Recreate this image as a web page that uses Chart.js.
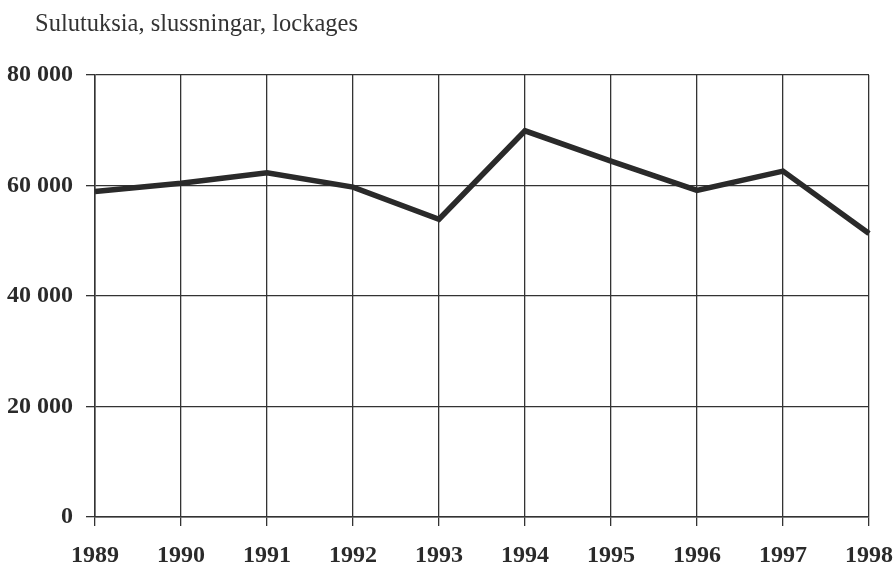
<!DOCTYPE html>
<html>
<head>
<meta charset="utf-8">
<script src="https://cdn.jsdelivr.net/npm/chart.js@4.4.0/dist/chart.umd.min.js"></script>
<style>
  html, body { margin: 0; padding: 0; background: #fff; }
  #wrap { width: 896px; height: 570px; position: relative; }
</style>
</head>
<body>
<div id="wrap"><canvas id="lockChart" width="896" height="570"></canvas></div>
<script>
// vuodet / years
var years = ['1989', '1990', '1991', '1992', '1993', '1994', '1995', '1996', '1997', '1998'];
// sulutuksia / lockages
var lockages = [58900, 60400, 62300, 59700, 53900, 69900, 64400, 59100, 62600, 51300];
var yTicks = [0, 20000, 40000, 60000, 80000];
var titleText = 'Sulutuksia, slussningar, lockages';

var ink = '#2a2a2a';

function spaced(v) {
    return String(v).replace(/\B(?=(\d{3})+(?!\d))/g, ' ');
}

// title drawn in the top left corner, as in the print
var titlePlugin = {
    id: 'cornerTitle',
    afterDraw: function (chart) {
        var ctx = chart.ctx;
        ctx.save();
        ctx.font = '24.5px "Liberation Serif", "Times New Roman", serif';
        ctx.fillStyle = '#333';
        ctx.textBaseline = 'alphabetic';
        ctx.fillText(titleText, 35, 31);
        ctx.restore();
    }
};

var ctx = document.getElementById('lockChart').getContext('2d');
new Chart(ctx, {
    type: 'line',
    data: {
        labels: years,
        datasets: [{
            data: lockages,
            borderColor: ink,
            borderWidth: 5.5,
            pointRadius: 0,
            tension: 0,
            fill: false
        }]
    },
    options: {
        responsive: false,
        animation: false,
        layout: {
            padding: { top: 75, right: 27, bottom: 0, left: 0 }
        },
        plugins: {
            legend: { display: false },
            tooltip: { enabled: false }
        },
        scales: {
            x: {
                type: 'category',
                offset: false,
                grid: { color: '#333', lineWidth: 1.3, tickLength: 9, drawTicks: true },
                border: { color: '#333', width: 1.5 },
                ticks: {
                    color: ink,
                    padding: 15,
                    maxRotation: 0,
                    autoSkip: false,
                    font: { family: '"Liberation Serif", "Times New Roman", serif', size: 24, weight: 'bold' }
                },
                afterFit: function (scale) {
                    scale.height = 53;
                    // the last year label may run past the plot edge
                    scale.paddingLeft = 0;
                    scale.paddingRight = 0;
                }
            },
            y: {
                min: 0,
                max: 80000,
                afterBuildTicks: function (scale) {
                    scale.ticks = yTicks.map(function (v) { return { value: v }; });
                },
                grid: { color: '#333', lineWidth: 1.3, tickLength: 9, drawTicks: true },
                border: { color: '#333', width: 1.5 },
                ticks: {
                    color: ink,
                    padding: 13,
                    callback: function (v) { return spaced(v); },
                    font: { family: '"Liberation Serif", "Times New Roman", serif', size: 24, weight: 'bold' }
                },
                afterFit: function (scale) { scale.width = 95; }
            }
        }
    },
    plugins: [titlePlugin]
});
</script>
</body>
</html>
